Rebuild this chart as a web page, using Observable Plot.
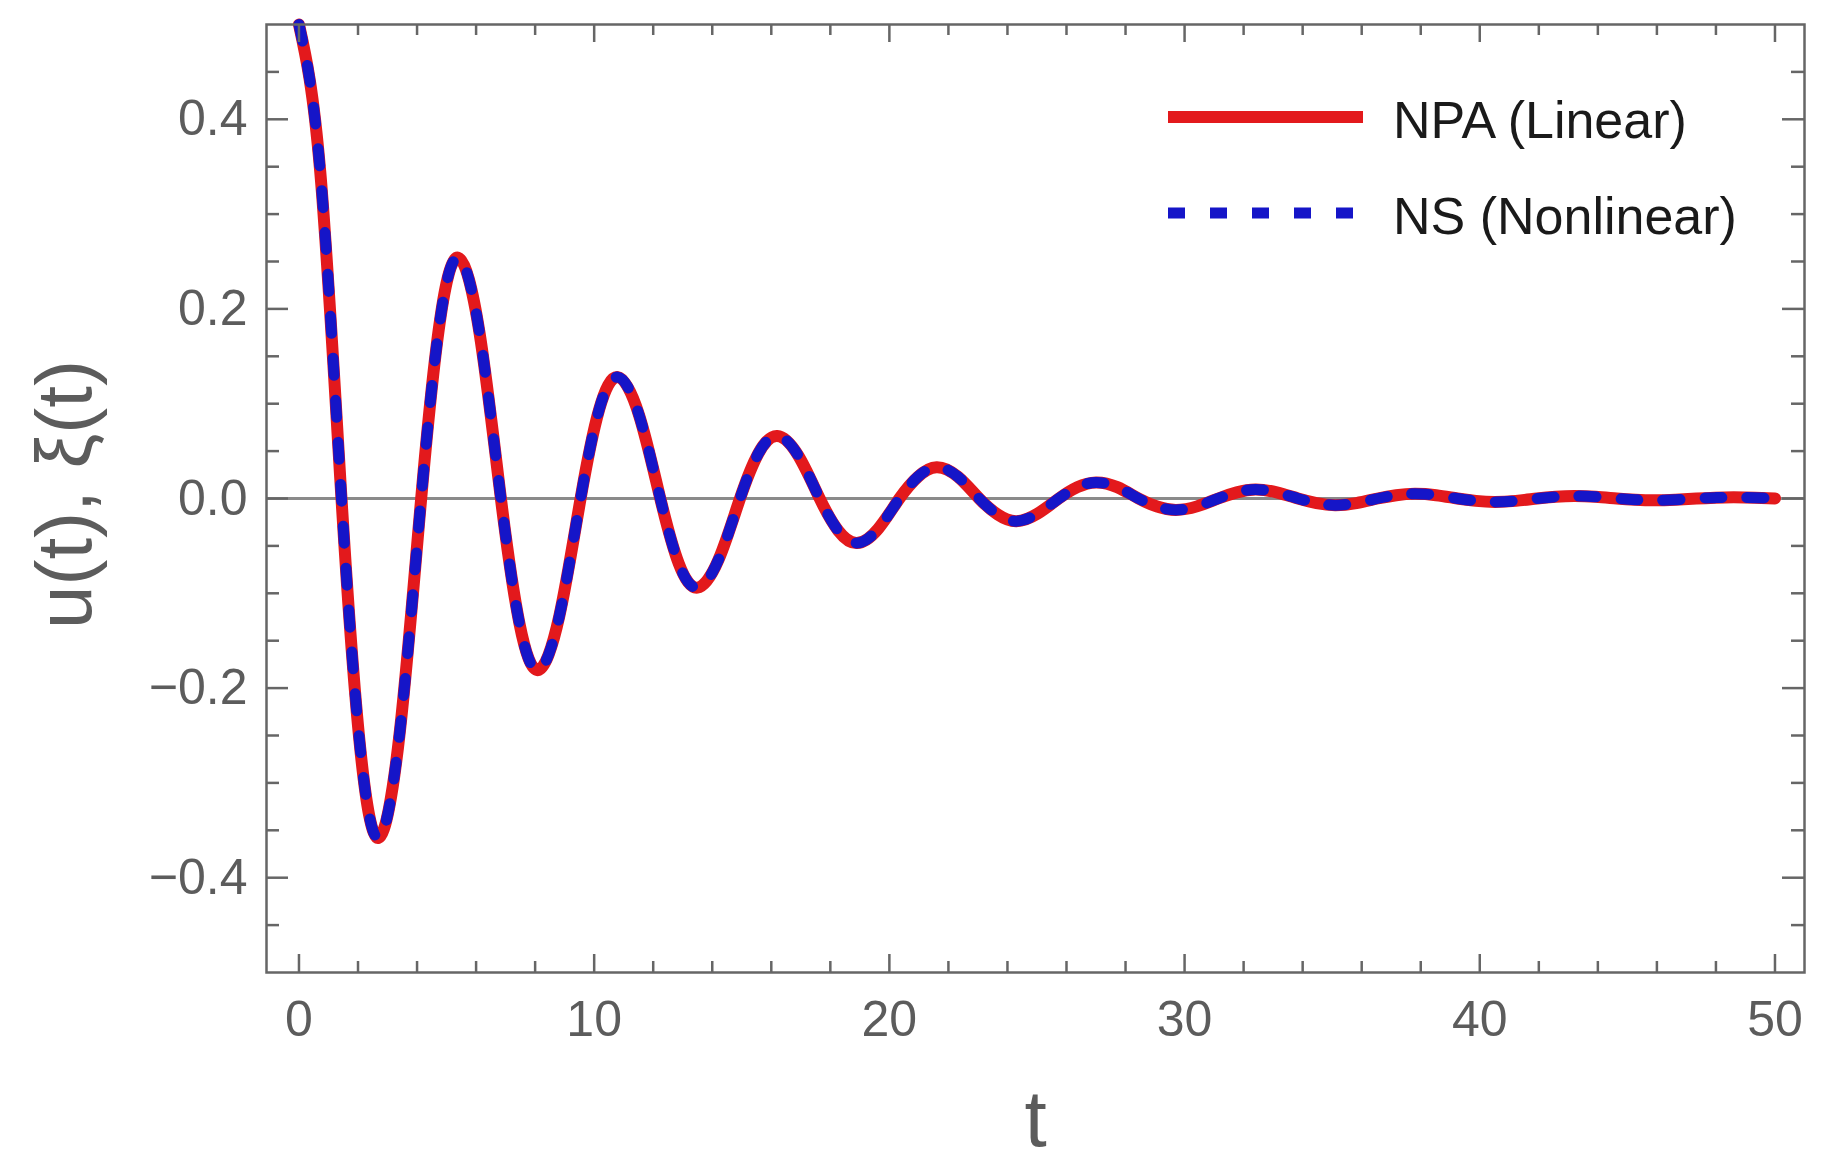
<!DOCTYPE html>
<html><head><meta charset="utf-8">
<script src="https://cdn.jsdelivr.net/npm/d3@7"></script>
<script src="https://cdn.jsdelivr.net/npm/@observablehq/plot@0.6"></script>
<style>
html,body{margin:0;padding:0;background:#fff;}
#wrap{position:relative;width:1824px;height:1172px;}
#legend{position:absolute;left:0;top:0;pointer-events:none;}
</style></head><body>
<div id="wrap"></div>
<script>
// time samples (extrema, zero crossings and points in between)
const tValues = [0, 0.72, 1.44, 2.07, 2.70, 3.42, 4.14, 4.77, 5.40, 6.12, 6.84, 7.47, 8.10, 8.82, 9.54, 10.17, 10.80, 11.52, 12.24, 12.87, 13.50, 14.22, 14.94, 15.57, 16.20, 16.92, 17.64, 18.27, 18.90, 19.62, 20.34, 20.97, 21.60, 22.32, 23.04, 23.67, 24.30, 25.02, 25.74, 26.37, 27.00, 27.72, 28.44, 29.07, 29.70, 30.42, 31.14, 31.77, 32.40, 33.12, 33.84, 34.47, 35.10, 35.82, 36.54, 37.17, 37.80, 38.52, 39.24, 39.87, 40.50, 41.22, 41.94, 42.57, 43.20, 43.92, 44.64, 45.27, 45.90, 46.62, 47.34, 47.97, 48.60, 49.32, 50.00];
const uLinear = [0.5, 0.345, 0, -0.262, -0.358, -0.245, 0, 0.186, 0.254, 0.174, 0, -0.132, -0.181, -0.124, 0, 0.094, 0.128, 0.088, 0, -0.069, -0.094, -0.064, 0, 0.048, 0.066, 0.045, 0, -0.034, -0.047, -0.032, 0, 0.023, 0.033, 0.023, 0, -0.017, -0.024, -0.016, 0, 0.012, 0.017, 0.012, 0, -0.0085, -0.012, -0.0083, 0, 0.0065, 0.0095, 0.0065, 0, -0.0048, -0.007, -0.0048, 0, 0.0035, 0.005, 0.0035, 0, -0.0025, -0.0036, -0.0025, 0, 0.0018, 0.0026, 0.0018, 0, -0.0013, -0.0019, -0.0013, 0, 0.0009, 0.0013, 0.0009, 0.0001];
const xiNonlinear = [0.5, 0.345, 0, -0.262, -0.358, -0.245, 0, 0.186, 0.254, 0.174, 0, -0.132, -0.181, -0.124, 0, 0.094, 0.128, 0.088, 0, -0.069, -0.094, -0.064, 0, 0.048, 0.066, 0.045, 0, -0.034, -0.047, -0.032, 0, 0.023, 0.033, 0.023, 0, -0.017, -0.024, -0.016, 0, 0.012, 0.017, 0.012, 0, -0.0085, -0.012, -0.0083, 0, 0.0065, 0.0095, 0.0065, 0, -0.0048, -0.007, -0.0048, 0, 0.0035, 0.005, 0.0035, 0, -0.0025, -0.0036, -0.0025, 0, 0.0018, 0.0026, 0.0018, 0, -0.0013, -0.0019, -0.0013, 0, 0.0009, 0.0013, 0.0009, 0.0001];

const seriesNames = ["NPA (Linear)", "NS (Nonlinear)"];
const seriesColors = ["#e3191c", "#1515c8"];
const xMajorTicks = [0, 10, 20, 30, 40, 50];
const xMinorTicks = [2, 4, 6, 8, 12, 14, 16, 18, 22, 24, 26, 28, 32, 34, 36, 38, 42, 44, 46, 48];
const yMajorTicks = [-0.4, -0.2, 0, 0.2, 0.4];
const yMinorTicks = [-0.45, -0.35, -0.3, -0.25, -0.15, -0.1, -0.05, 0.05, 0.1, 0.15, 0.25, 0.3, 0.35, 0.45];
const xLabel = "t";
const yLabel = "u(t), ξ(t)";

const linear = tValues.map((t, i) => ({t, v: uLinear[i]}));
const nonlinear = tValues.map((t, i) => ({t, v: xiNonlinear[i]}));

const W = 1824, H = 1172, mL = 266, mR = 20, mT = 24, mB = 200;
const fw = W - mL - mR, fh = H - mT - mB;
const gray = "#666666";
const textGray = "#5c5c5c";
const font = "'Liberation Sans', Arial, Helvetica, sans-serif";

const chart = Plot.plot({
  width: W, height: H,
  marginLeft: mL, marginRight: mR, marginTop: mT, marginBottom: mB,
  style: {fontFamily: font, background: "#fff", overflow: "visible"},
  x: {domain: [-1.1, 51]},
  y: {domain: [-0.5, 0.5]},
  marks: [
    Plot.ruleY([0], {stroke: "#8a8a8a", strokeWidth: 3}),
    Plot.line(linear, {x: "t", y: "v", stroke: seriesColors[0], strokeWidth: 12, curve: "natural"}),
    Plot.line(nonlinear, {x: "t", y: "v", stroke: seriesColors[1], strokeWidth: 11, strokeDasharray: "17,25", curve: "natural"}),
    // inward frame ticks: bottom, top
    Plot.ruleX(xMajorTicks, {x: d => d, stroke: gray, strokeWidth: 2.5, insetTop: fh - 18}),
    Plot.ruleX(xMinorTicks, {x: d => d, stroke: gray, strokeWidth: 2.5, insetTop: fh - 11}),
    Plot.ruleX(xMajorTicks, {x: d => d, stroke: gray, strokeWidth: 2.5, insetBottom: fh - 18}),
    Plot.ruleX(xMinorTicks, {x: d => d, stroke: gray, strokeWidth: 2.5, insetBottom: fh - 11}),
    // left, right
    Plot.ruleY(yMajorTicks, {y: d => d, stroke: gray, strokeWidth: 2.5, insetRight: fw - 22}),
    Plot.ruleY(yMinorTicks, {y: d => d, stroke: gray, strokeWidth: 2.5, insetRight: fw - 13}),
    Plot.ruleY(yMajorTicks, {y: d => d, stroke: gray, strokeWidth: 2.5, insetLeft: fw - 22}),
    Plot.ruleY(yMinorTicks, {y: d => d, stroke: gray, strokeWidth: 2.5, insetLeft: fw - 13}),
    Plot.frame({stroke: gray, strokeWidth: 2.5}),
    Plot.axisX(xMajorTicks, {tickSize: 0, tickPadding: 28, fontSize: 50, color: textGray, tickFormat: d3.format("d"), label: null}),
    Plot.axisY(yMajorTicks, {tickSize: 0, tickPadding: 19, fontSize: 50, color: textGray, tickFormat: d3.format(".1f"), label: null}),
    Plot.text([xLabel], {text: d => d, frameAnchor: "bottom", lineAnchor: "bottom", dy: 173, fontSize: 80, fill: textGray}),
    Plot.text([yLabel], {text: d => d, frameAnchor: "left", rotate: -90, textAnchor: "middle", lineAnchor: "bottom", dx: -176, dy: -4, fontSize: 78, fill: textGray})
  ]
});

const wrap = document.getElementById("wrap");
wrap.appendChild(chart);

// legend placed inside the plot at the top right
const ns = "http://www.w3.org/2000/svg";
const leg = document.createElementNS(ns, "svg");
leg.setAttribute("id", "legend");
leg.setAttribute("width", W);
leg.setAttribute("height", H);
leg.setAttribute("font-family", font);
const rows = [
  {name: seriesNames[0], color: seriesColors[0], dash: null, width: 12, y: 117, x2: 1363},
  {name: seriesNames[1], color: seriesColors[1], dash: "17,25", width: 11, y: 213, x2: 1353}
];
for (const r of rows) {
  const ln = document.createElementNS(ns, "line");
  ln.setAttribute("x1", 1168); ln.setAttribute("x2", r.x2);
  ln.setAttribute("y1", r.y); ln.setAttribute("y2", r.y);
  ln.setAttribute("stroke", r.color); ln.setAttribute("stroke-width", r.width);
  if (r.dash) ln.setAttribute("stroke-dasharray", r.dash);
  leg.appendChild(ln);
  const tx = document.createElementNS(ns, "text");
  tx.setAttribute("x", 1393); tx.setAttribute("y", r.y + 21);
  tx.setAttribute("font-size", 52); tx.setAttribute("fill", "#1a1a1a");
  tx.textContent = r.name;
  leg.appendChild(tx);
}
wrap.appendChild(leg);
</script>
</body></html>
